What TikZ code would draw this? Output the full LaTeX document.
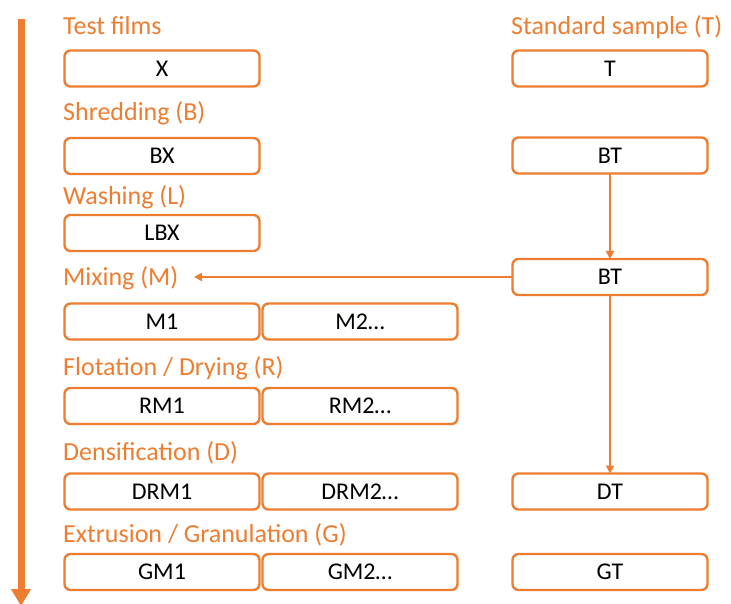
\documentclass[tikz,border=0pt]{standalone}
\usepackage{fontspec}
\setmainfont{Carlito}
\usetikzlibrary{arrows.meta}
\definecolor{acc}{HTML}{ED7D31}
\tikzset{
  box/.style={draw=acc, line width=2.4pt, rounded corners=6pt, fill=white,
    minimum width=195pt, minimum height=36pt, inner sep=0pt, outer sep=0pt,
    font=\fontsize{24}{28}\selectfont, text=black},
  lbl/.style={anchor=base west, inner sep=0pt, text=acc, font=\fontsize{26}{30}\selectfont},
  conn/.style={draw=acc, line width=2pt, -{Triangle[length=8pt,width=8pt]}},
  bigarrow/.style={draw=acc, line width=7pt, -{Triangle[length=17pt,width=19pt]}}
}
\begin{document}
\begin{tikzpicture}[x=1pt,y=-1pt]
\useasboundingbox (0,0) rectangle (731,604);
% time arrow
\coordinate (top) at (21,19);
\coordinate (bot) at (21,606);
\draw[bigarrow] (top) -- (bot);
% labels
\node[lbl] (l1) at (63,35) {Test films};
\node[lbl] (l2) at (63,121) {Shredding (B)};
\node[lbl] (l3) at (63,205) {Washing (L)};
\node[lbl] (l4) at (63,285) {Mixing (M)};
\node[lbl] (l5) at (63,375) {Flotation / Drying (R)};
\node[lbl] (l6) at (63,460) {Densification (D)};
\node[lbl] (l7) at (63,542) {Extrusion / Granulation (G)};
\node[lbl] (lt) at (511,35) {Standard sample (T)};
% left boxes
\node[box] (x) at (162,68.5) {X};
\node[box] (bx) at (162,156) {BX};
\node[box] (lbx) at (162,233) {LBX};
\node[box] (m1) at (162,321.5) {M1};
\node[box] (m2) at (360,321.5) {M2…};
\node[box] (rm1) at (162,406) {RM1};
\node[box] (rm2) at (360,406) {RM2…};
\node[box] (drm1) at (162,491.5) {DRM1};
\node[box] (drm2) at (360,491.5) {DRM2…};
\node[box] (gm1) at (162,572) {GM1};
\node[box] (gm2) at (360,572) {GM2…};
% right boxes
\node[box] (t) at (610,68.5) {T};
\node[box] (bt1) at (610,155.5) {BT};
\node[box] (bt2) at (610,277) {BT};
\node[box] (dt) at (610,491.5) {DT};
\node[box] (gt) at (610,572) {GT};
% connectors
\coordinate (mixend) at (194,277);
\draw[conn] (bt1) -- (bt2);
\draw[conn] (bt2) -- (dt);
\draw[conn] (bt2.west) -- (mixend);
\end{tikzpicture}
\end{document}
